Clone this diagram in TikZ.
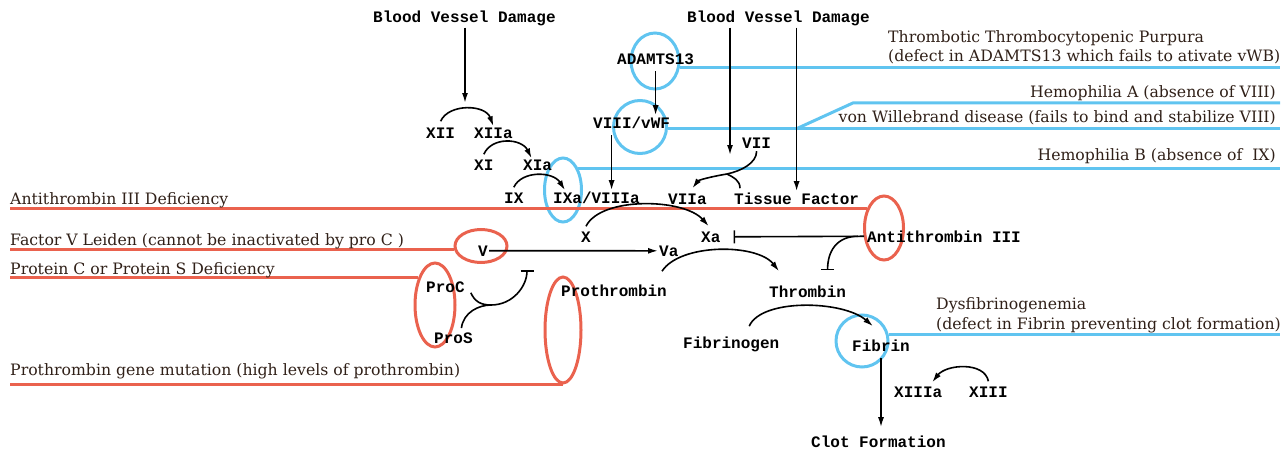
\documentclass[tikz,border=0pt]{standalone}
\usepackage{fontspec}
\setmainfont{DejaVu Serif}
\setmonofont{Liberation Mono}
\usetikzlibrary{arrows.meta,shapes.geometric,backgrounds}
\definecolor{vein}{RGB}{96,196,240}
\definecolor{clot}{RGB}{234,98,78}
\definecolor{ink}{RGB}{48,32,24}

\begin{document}
\begin{tikzpicture}[x=1pt,y=-1pt,
  fac/.style={font=\ttfamily\bfseries\fontsize{16}{18}\selectfont,inner sep=1pt,anchor=base west},
  dis/.style={font=\fontsize{15.7}{18}\selectfont,text=ink,inner sep=0pt},
  ln/.style={line width=1.6pt},
  arr/.style={ln,-{Latex[length=10pt,width=6pt]}},
  inh/.style={ln,-{Bar[width=13pt,line width=1.6pt]}},
  bl/.style={draw=vein,line width=3pt},
  rd/.style={draw=clot,line width=3pt},
  ring/.style={ellipse,inner sep=0pt}]
  \useasboundingbox (0,0) rectangle (1288,452);
  \path
    (372,23)  node[fac] (bvdA)   {Blood Vessel Damage}
    (686,23)  node[fac] (bvdB)   {Blood Vessel Damage}
    (425,138) node[fac] (xii)    {XII}
    (473,138) node[fac] (xiia)   {XIIa}
    (473,170) node[fac] (xi)     {XI}
    (522,170) node[fac] (xia)    {XIa}
    (503,203) node[fac] (ix)     {IX}
    (552,203) node[fac] (ixa)    {IXa/VIIIa}
    (616,64)  node[fac] (adamts) {ADAMTS13}
    (592,128) node[fac] (vwf)    {VIII/vWF}
    (741,148) node[fac] (vii)    {VII}
    (667,204) node[fac] (viia)   {VIIa}
    (733,204) node[fac] (tf)     {Tissue Factor}
    (580,242) node[fac] (x)      {X}
    (700,242) node[fac] (xa)     {Xa}
    (866,242) node[fac] (at3)    {Antithrombin III}
    (477,256) node[fac] (v)      {V}
    (658,256) node[fac] (va)     {Va}
    (425,292) node[fac] (proc)   {ProC}
    (433,343) node[fac] (pros)   {ProS}
    (560,296) node[fac] (pth)    {Prothrombin}
    (768,297) node[fac] (thr)    {Thrombin}
    (682,348) node[fac] (fgn)    {Fibrinogen}
    (851,351) node[fac] (fib)    {Fibrin}
    (893,397) node[fac] (xiiia)  {XIIIa}
    (968,397) node[fac] (xiii)   {XIII}
    (810,447) node[fac] (clot)   {Clot Formation};
  \node[dis,anchor=base west] (ttpA) at (888,43)  {Thrombotic Thrombocytopenic Purpura};
  \node[dis,anchor=base west] (ttpB) at (888,62)  {(defect in ADAMTS13 which fails to ativate vWB)};
  \node[dis,anchor=base east] (hemA) at (1276,98) {Hemophilia A (absence of VIII)};
  \node[dis,anchor=base east] (vwd)  at (1276,122) {von Willebrand disease (fails to bind and stabilize VIII)};
  \node[dis,anchor=base east] (hemB) at (1276,160) {Hemophilia B (absence of\ \ IX)};
  \node[dis,anchor=base west] (atd)  at (10,204)  {Antithrombin III Deficiency};
  \node[dis,anchor=base west] (fvl)  at (10,245)  {Factor V Leiden (cannot be inactivated by pro C )};
  \node[dis,anchor=base west] (pcs)  at (10,274)  {Protein C or Protein S Deficiency};
  \node[dis,anchor=base west] (pgm)  at (10,375)  {Prothrombin gene mutation (high levels of prothrombin)};
  \node[dis,anchor=base west] (dysA) at (936,309) {Dysfibrinogenemia};
  \node[dis,anchor=base west] (dysB) at (936,329) {(defect in Fibrin preventing clot formation)};
  \coordinate (rgt)  at (1280,0);
  \coordinate (lft)  at (10,0);
  \coordinate (fork) at (796,0);
  \coordinate (hitA) at (465,103);
  \coordinate (hitB) at (730,155);
  \coordinate (j7)   at (727,174);
  \coordinate (jp)   at (491,305);
  \coordinate (vbar) at (527,270);
  \begin{scope}[on background layer]
    \node[ring,bl,minimum width=48pt,minimum height=56pt]  (c1) at (655,61)  {};
    \node[ring,bl,minimum width=53pt,minimum height=53pt]  (c2) at (640,127) {};
    \node[ring,bl,minimum width=37pt,minimum height=64pt]  (c3) at (563,190) {};
    \node[ring,bl,minimum width=52pt,minimum height=52pt]  (c4) at (862,341) {};
    \node[ring,rd,minimum width=39pt,minimum height=64pt]  (r1) at (884,228) {};
    \node[ring,rd,minimum width=52pt,minimum height=33pt]  (r2) at (481,246) {};
    \node[ring,rd,minimum width=40pt,minimum height=84pt]  (r3) at (435,305) {};
    \node[ring,rd,minimum width=36pt,minimum height=106pt] (r4) at (563,330) {};
    \draw[bl] (c1.-15) -- (c1.-15 -| rgt);
    \draw[bl] (c2.-4) -- (c2.-4 -| rgt);
    \draw[bl] (c2.-4 -| fork) -- ++(57,-26) coordinate (fk) -- (fk -| rgt);
    \draw[bl] (c3.55) -- (c3.55 -| rgt);
    \draw[bl] (c4.13) -- (c4.13 -| rgt);
    \draw[rd] (r1.132) -- (r1.132 -| lft);
    \draw[rd] (r2.188) -- (r2.188 -| lft);
    \draw[rd] (r3.121) -- (r3.121 -| lft);
    \draw[rd] (r4.south) -- (r4.south -| lft);
  \end{scope}
  \draw[arr] (bvdA.south -| hitA) -- (hitA);
  \draw[arr] ([yshift=5pt]xii.north) .. controls +(8,-18) and +(-8,-22) .. (xiia.north);
  \draw[arr] ([yshift=4pt]xi.north) .. controls +(8,-18) and +(-10,-20) .. ([xshift=-6pt]xia.north);
  \draw[arr] ([yshift=4pt]ix.north) .. controls +(8,-17) and +(-12,-19) .. ([xshift=13pt]ixa.north west);
  \draw[arr] ([yshift=-6pt]adamts.south) -- (adamts.south |- vwf.north);
  \draw[arr] ([xshift=-20pt,yshift=-6pt]vwf.south) -- ([xshift=-20pt]vwf.south |- ixa.north);
  \draw[arr] (bvdB.south -| hitB) -- (hitB);
  \draw[arr] (bvdB.south -| tf.north) -- (tf.north);
  \draw[ln] ([yshift=-2pt]vii.south) .. controls +(0,12) and +(14,-3) .. (j7);
  \draw[ln] ([xshift=7pt,yshift=3pt]tf.north west) .. controls +(0,-8) and +(6,3) .. (j7);
  \draw[arr] (j7) .. controls +(-18,3) and +(6,-8) .. ([xshift=5pt,yshift=4pt]viia.north);
  \draw[arr] ([yshift=4pt]x.north) .. controls +(15,-30) and +(-25,-28) .. ([xshift=-2pt,yshift=4pt]xa.north);
  \draw[inh] ([xshift=-2pt]at3.west) -- ([xshift=12pt]xa.east);
  \draw[inh] ([xshift=-8pt]at3.west) .. controls +(-22,0) and +(0,-18) .. ([xshift=20pt,yshift=14pt]thr.north);
  \draw[arr] (v.east) -- (va.west);
  \draw[arr] ([xshift=-6pt,yshift=12pt]pth.north east) .. controls +(18,-28) and +(-22,-28) .. ([xshift=11pt,yshift=13pt]thr.north west);
  \draw[ln] ([xshift=5pt,yshift=-6pt]proc.east) .. controls +(4,9) and +(-10,0) .. (jp);
  \draw[ln] ([xshift=8pt,yshift=3pt]pros.north) .. controls +(2,-16) and +(-12,0) .. (jp);
  \draw[inh] (jp) .. controls +(22,0) and +(0,16) .. (vbar);
  \draw[arr] ([xshift=18pt,yshift=9pt]fgn.north) .. controls +(12,-28) and +(-30,-26) .. ([xshift=-8pt,yshift=12pt]fib.north);
  \draw[arr,shorten >=7pt] ([yshift=-6pt]fib.south) -- (fib.south |- clot.north);
  \draw[arr] ([yshift=4pt]xiii.north) .. controls +(-4,-20) and +(14,-18) .. ([xshift=14pt,yshift=3pt]xiiia.north);
\end{tikzpicture}
\end{document}
